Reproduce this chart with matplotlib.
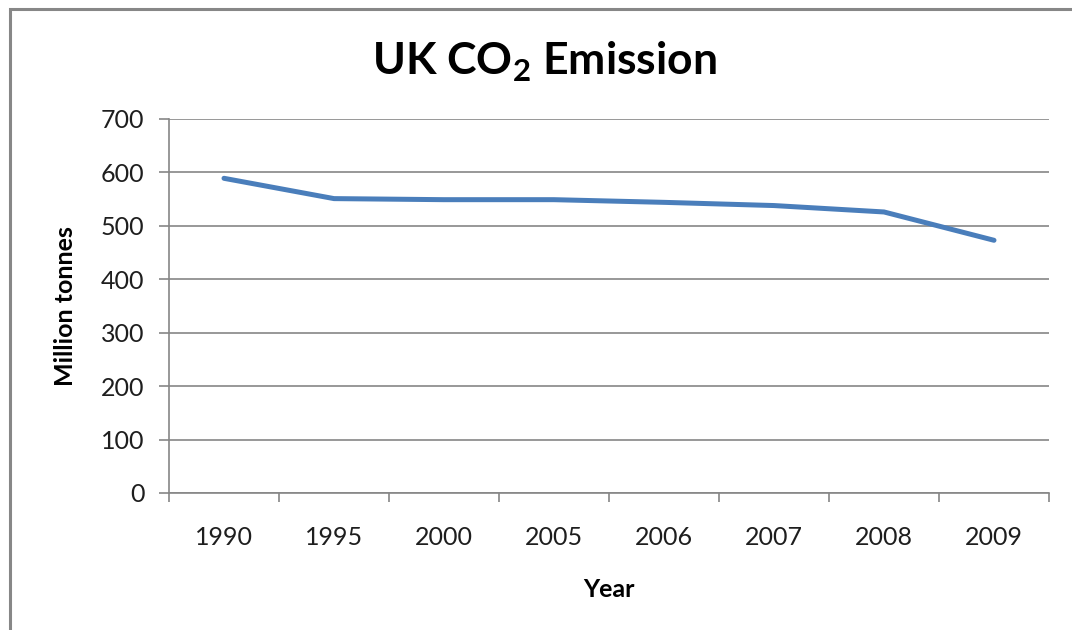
import matplotlib
matplotlib.use("Agg")
import matplotlib.pyplot as plt
from matplotlib.patches import Rectangle

years = ["1990", "1995", "2000", "2005", "2006", "2007", "2008", "2009"]
emissions = [589, 551, 549, 549, 544, 538, 526, 473]
y_ticks = [0, 100, 200, 300, 400, 500, 600, 700]

plt.rcParams["font.family"] = ["Lato", "DejaVu Sans"]

W, H = 1072, 630
fig = plt.figure(figsize=(W / 100, H / 100), dpi=100)
fig.patch.set_facecolor("white")

# outer chart-area frame (runs off the right and bottom edges)
fig.add_artist(Rectangle((9.5 / W, -0.05), 1.2, 1 - 9.5 / H + 0.05,
                         transform=fig.transFigure, fill=False,
                         edgecolor="#878787", linewidth=2.2))

ax = fig.add_axes([169 / W, 1 - 493 / H, 880 / W, 374 / H])
x = list(range(len(years)))
ax.plot(x, emissions, color="#4A7EBB", linewidth=3.6, solid_capstyle="round",
        solid_joinstyle="round", zorder=3)

ax.set_xlim(-0.5, len(years) - 0.5)
ax.set_ylim(0, 700)
ax.set_yticks(y_ticks)
ax.set_yticklabels([str(v) for v in y_ticks])
ax.set_xticks(x)
ax.set_xticklabels(years)
ax.set_xticks([i - 0.5 for i in range(len(years) + 1)], minor=True)

ax.grid(axis="y", color="#868686", linewidth=1.2, zorder=0)
for s in ["top", "right"]:
    ax.spines[s].set_visible(False)
for s in ["left", "bottom"]:
    ax.spines[s].set_color("#868686")
    ax.spines[s].set_linewidth(1.2)

ax.tick_params(axis="y", length=7.2, width=1.2, color="#868686", pad=10.5,
               labelsize=18, labelcolor="#1e1e1e")
ax.tick_params(axis="x", which="major", length=0, pad=24, labelsize=18,
               labelcolor="#1e1e1e")
ax.tick_params(axis="x", which="minor", length=6.5, width=1.2, color="#868686")

ax.set_ylabel("Million tonnes", fontsize=18, fontweight="bold")
ax.set_xlabel("Year", fontsize=18, fontweight="bold")
ax.yaxis.label.set_va("baseline")
ax.yaxis.set_label_coords((73 - 169) / 880, 0.5)
ax.xaxis.label.set_va("baseline")
ax.xaxis.set_label_coords(0.5, -(597 - 493) / 374)

fig.text(545 / W, 1 - 75 / H, r"UK CO$_\mathregular{2}$ Emission", ha="center",
         va="baseline", fontsize=32, fontweight="bold")

fig.savefig("out.png", dpi=100)
